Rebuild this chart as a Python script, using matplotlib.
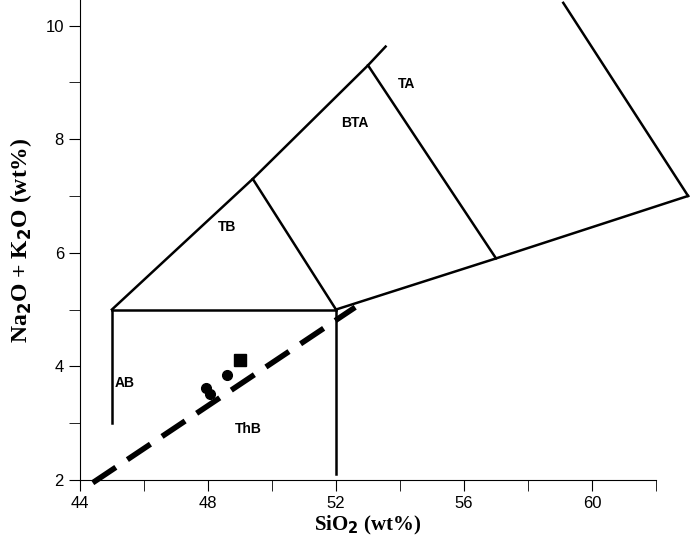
import matplotlib
matplotlib.use("Agg")
import matplotlib.pyplot as plt

# field boundaries (SiO2, Na2O+K2O)
boundaries = [
    ([45, 45], [3.0, 5.0]),
    ([45, 52], [5.0, 5.0]),
    ([52, 52], [5.0, 2.1]),
    ([45, 49.4, 52], [5.0, 7.3, 5.0]),
    ([49.4, 53.0, 53.55], [7.3, 9.3, 9.63]),
    ([53.0, 57.0], [9.3, 5.9]),
    ([52, 57.0, 63.0], [5.0, 5.9, 7.0]),
    ([63.0, 59.1], [7.0, 10.4]),
]
dash_x = [44.4, 52.6]
dash_y = [1.95, 5.04]

sq_x, sq_y = [49.0], [4.12]
circ_x = [48.6, 47.95, 48.05]
circ_y = [3.85, 3.62, 3.52]

labels = ["TA", "BTA", "TB", "AB", "ThB"]
lab_x = [54.2, 52.6, 48.6, 45.4, 49.25]
lab_y = [8.97, 8.28, 6.45, 3.7, 2.9]

fig = plt.figure(figsize=(6.95, 5.6), dpi=100)
ax = fig.add_axes([0.115, 0.143, 0.829, 0.857])

for xs, ys in boundaries:
    ax.plot(xs, ys, color="black", lw=1.8, clip_on=False)
ax.plot(dash_x, dash_y, color="black", lw=4, dashes=(5, 2.5), clip_on=False)
ax.plot(sq_x, sq_y, "s", color="black", ms=8)
ax.plot(circ_x, circ_y, "o", color="black", ms=7)

for t, x, y in zip(labels, lab_x, lab_y):
    ax.text(x, y, t, fontsize=10, fontweight="bold", ha="center", va="center",
            family="Liberation Sans")

ax.set_xlim(44, 62)
ax.set_ylim(2, 10.45)
ax.set_xticks([44, 48, 52, 56, 60])
ax.set_xticks(range(46, 63, 4), minor=True)
ax.set_yticks([2, 4, 6, 8, 10])
ax.set_yticks([3, 5, 7, 9], minor=True)
ax.tick_params(which="major", length=8, labelsize=12)
ax.tick_params(which="minor", length=8)
for lab in ax.get_xticklabels() + ax.get_yticklabels():
    lab.set_family("Liberation Sans")
ax.spines["top"].set_visible(False)
ax.spines["right"].set_visible(False)

ax.set_xlabel(r"SiO$_\mathbf{2}$ (wt%)", fontsize=15, fontweight="bold",
              family="Liberation Serif", labelpad=2)
ax.set_ylabel(r"Na$_\mathbf{2}$O + K$_\mathbf{2}$O (wt%)", fontsize=17,
              fontweight="bold", family="Liberation Serif", labelpad=8)

fig.savefig("out.png", dpi=100)
